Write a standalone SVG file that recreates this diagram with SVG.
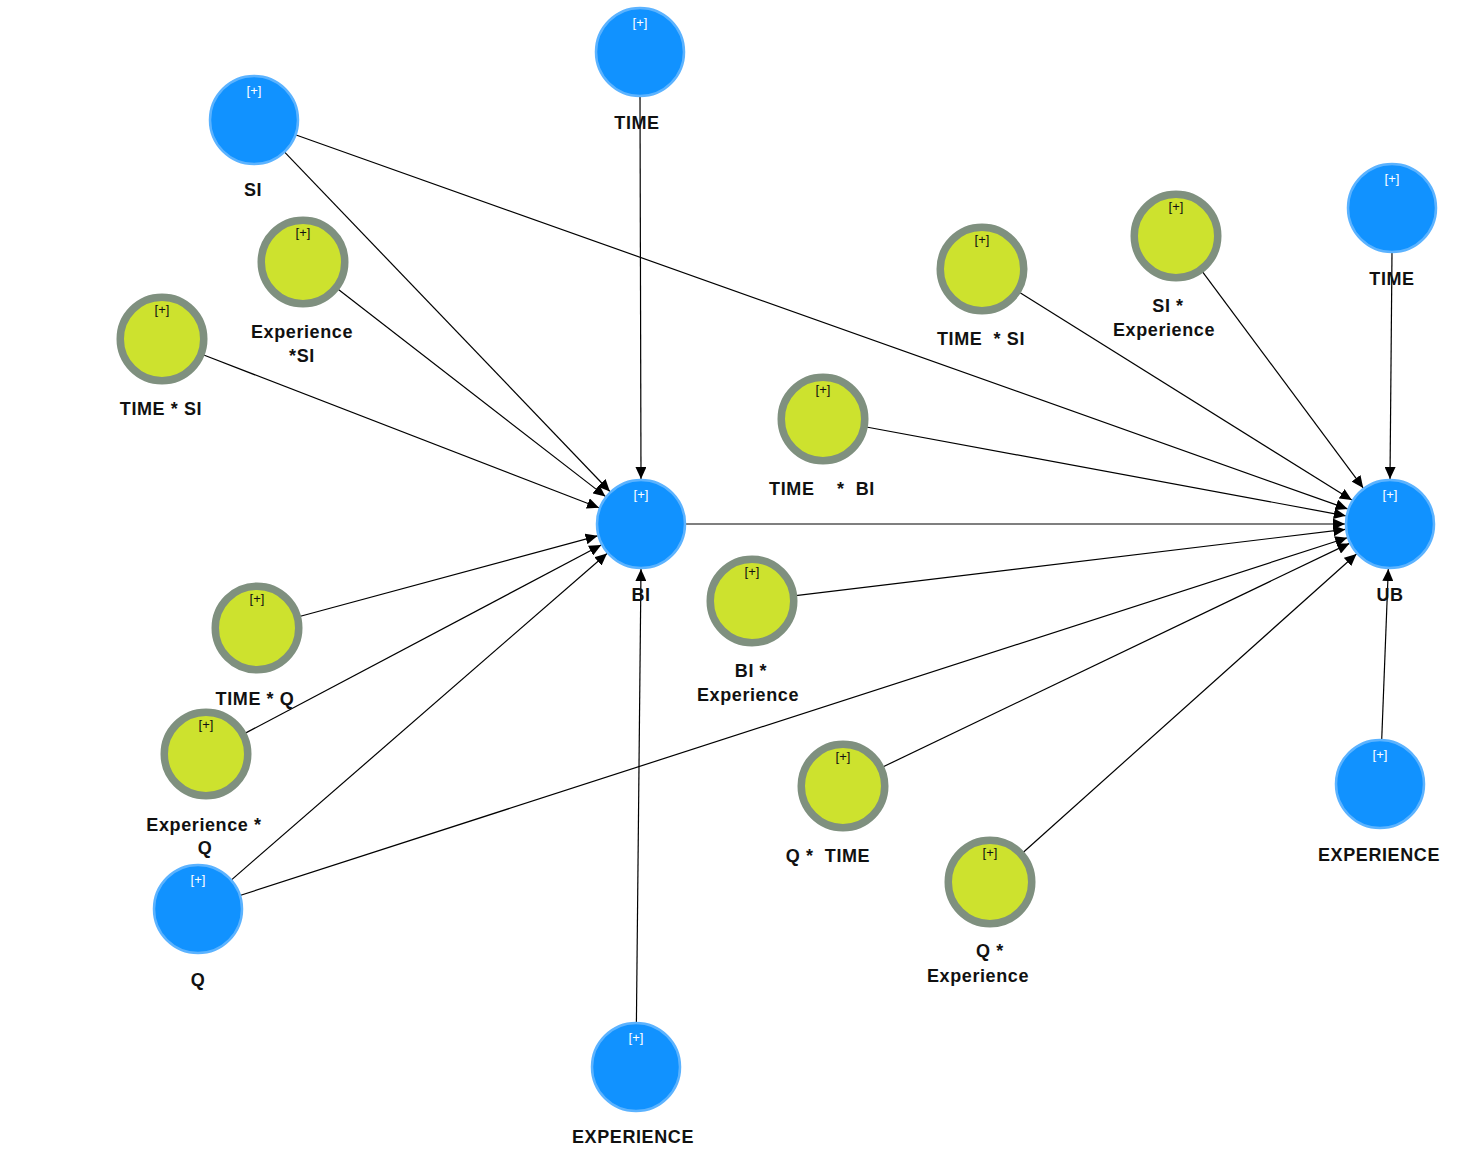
<svg xmlns="http://www.w3.org/2000/svg" width="1466" height="1154" viewBox="0 0 1466 1154">
<defs>
<style>
.b{fill:#1192ff;stroke:#5cb3ff;stroke-width:2.5}
.g{fill:#cde22e;stroke:#7f907f;stroke-width:7.5}
.pb{font-family:"Liberation Sans",Arial,sans-serif;font-size:13px;fill:#ffffff;text-anchor:middle}
.pg{font-family:"Liberation Sans",Arial,sans-serif;font-size:13px;fill:#111111;text-anchor:middle}
.lb{font-family:"Liberation Sans",Arial,sans-serif;font-size:18px;font-weight:bold;fill:#111111;text-anchor:middle;letter-spacing:0.6px;white-space:pre}
.e line{stroke:#000000;stroke-width:1.2;marker-end:url(#ah)}
</style>
<marker id="ah" viewBox="0 0 12 11" refX="12" refY="5.5" markerWidth="12" markerHeight="11" markerUnits="userSpaceOnUse" orient="auto">
<path d="M0,0 L12,5.5 L0,11 z" fill="#000000"/>
</marker>
</defs>
<rect width="1466" height="1154" fill="#ffffff"/>
<g id="connectors" class="e">
<line x1="640" y1="96" x2="641" y2="479"/>
<line x1="284.4" y1="151.8" x2="609.9" y2="491.5"/>
<line x1="337.8" y1="289" x2="605.4" y2="496.4"/>
<line x1="203.1" y1="354.8" x2="599" y2="507.8"/>
<line x1="299.5" y1="616.5" x2="597.6" y2="535.8"/>
<line x1="244.9" y1="733.4" x2="601.2" y2="545"/>
<line x1="231.2" y1="880.1" x2="607" y2="553.5"/>
<line x1="636.4" y1="1023" x2="641" y2="569"/>
<line x1="295.4" y1="134.7" x2="1347.6" y2="508.9"/>
<line x1="1019.3" y1="292.3" x2="1351.8" y2="500.1"/>
<line x1="1202.2" y1="271.3" x2="1363.2" y2="487.9"/>
<line x1="1392" y1="252" x2="1390" y2="479"/>
<line x1="866.3" y1="427" x2="1345.8" y2="515.8"/>
<line x1="685" y1="524" x2="1345" y2="524"/>
<line x1="795.7" y1="595.7" x2="1345.3" y2="529.4"/>
<line x1="239.9" y1="895.5" x2="1347.2" y2="537.8"/>
<line x1="882.7" y1="767" x2="1349.4" y2="543.4"/>
<line x1="1022.8" y1="852.7" x2="1356.5" y2="554"/>
<line x1="1381.7" y1="740" x2="1388.3" y2="569"/>
</g>
<g id="time-top"><circle class="b" cx="640" cy="52" r="44"/><text class="pb" x="640" y="27">[+]</text><text class="lb" x="637" y="129">TIME</text></g>
<g id="si"><circle class="b" cx="254" cy="120" r="44"/><text class="pb" x="254" y="95">[+]</text><text class="lb" x="253" y="196">SI</text></g>
<g id="experience-si"><circle class="g" cx="303" cy="262" r="41.75"/><text class="pg" x="303" y="237">[+]</text><text class="lb" x="302" y="338">Experience</text><text class="lb" x="302" y="362">*SI</text></g>
<g id="time-si-left"><circle class="g" cx="162" cy="339" r="41.75"/><text class="pg" x="162" y="314">[+]</text><text class="lb" x="161" y="415">TIME * SI</text></g>
<g id="bi"><circle class="b" cx="641" cy="524" r="44"/><text class="pb" x="641" y="499">[+]</text><text class="lb" x="641" y="601">BI</text></g>
<g id="time-q"><circle class="g" cx="257" cy="628" r="41.75"/><text class="pg" x="257" y="603">[+]</text><text class="lb" x="255" y="705">TIME * Q</text></g>
<g id="experience-q"><circle class="g" cx="206" cy="754" r="41.75"/><text class="pg" x="206" y="729">[+]</text><text class="lb" x="204" y="831">Experience *</text><text class="lb" x="205" y="854">Q</text></g>
<g id="q"><circle class="b" cx="198" cy="909" r="44"/><text class="pb" x="198" y="884">[+]</text><text class="lb" x="198" y="986">Q</text></g>
<g id="experience-bottom"><circle class="b" cx="636" cy="1067" r="44"/><text class="pb" x="636" y="1042">[+]</text><text class="lb" x="633" y="1143">EXPERIENCE</text></g>
<g id="time-si-right"><circle class="g" cx="982" cy="269" r="41.75"/><text class="pg" x="982" y="244">[+]</text><text class="lb" x="981" y="345">TIME  * SI</text></g>
<g id="si-experience"><circle class="g" cx="1176" cy="236" r="41.75"/><text class="pg" x="1176" y="211">[+]</text><text class="lb" x="1168" y="312">SI *</text><text class="lb" x="1164" y="336">Experience</text></g>
<g id="time-right"><circle class="b" cx="1392" cy="208" r="44"/><text class="pb" x="1392" y="183">[+]</text><text class="lb" x="1392" y="285">TIME</text></g>
<g id="time-bi"><circle class="g" cx="823" cy="419" r="41.75"/><text class="pg" x="823" y="394">[+]</text><text class="lb" x="822" y="495">TIME    *  BI</text></g>
<g id="ub"><circle class="b" cx="1390" cy="524" r="44"/><text class="pb" x="1390" y="499">[+]</text><text class="lb" x="1390" y="601">UB</text></g>
<g id="bi-experience"><circle class="g" cx="752" cy="601" r="41.75"/><text class="pg" x="752" y="576">[+]</text><text class="lb" x="751" y="677">BI *</text><text class="lb" x="748" y="701">Experience</text></g>
<g id="q-time"><circle class="g" cx="843" cy="786" r="41.75"/><text class="pg" x="843" y="761">[+]</text><text class="lb" x="828" y="862">Q *  TIME</text></g>
<g id="q-experience"><circle class="g" cx="990" cy="882" r="41.75"/><text class="pg" x="990" y="857">[+]</text><text class="lb" x="990" y="957">Q *</text><text class="lb" x="978" y="982">Experience</text></g>
<g id="experience-right"><circle class="b" cx="1380" cy="784" r="44"/><text class="pb" x="1380" y="759">[+]</text><text class="lb" x="1379" y="861">EXPERIENCE</text></g>
</svg>
